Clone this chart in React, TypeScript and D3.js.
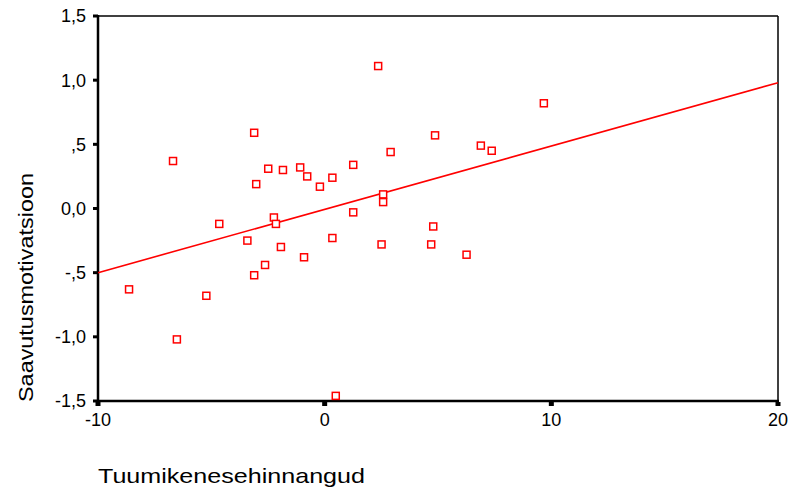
import React from "react"
import { scaleLinear, line } from "d3"

// values
const xValues = [
  -8.63, -6.69, -6.52, -5.22, -4.65, -3.41, -3.11, -3.02, -3.11, -2.63, -2.49, -2.24,
  -2.15, -1.84, -1.93, -1.08, -0.91, -0.77, -0.21, 0.34, 0.34, 0.49, 1.26, 1.26, 2.36,
  2.51, 2.58, 2.58, 2.91, 4.87, 4.7, 4.79, 6.26, 6.89, 7.37, 9.67,
]
const yValues = [
  -0.63, 0.37, -1.02, -0.68, -0.12, -0.25, 0.59, 0.19, -0.52, -0.44, 0.31, -0.07,
  -0.12, 0.3, -0.3, 0.32, -0.38, 0.25, 0.17, 0.24, -0.23, -1.46, 0.34, -0.03, 1.11,
  -0.28, 0.11, 0.05, 0.44, 0.57, -0.28, -0.14, -0.36, 0.49, 0.45, 0.82,
]
const fitX = [-10, 20]
const fitY = [-0.5, 0.98]
const xTicks = [-10, 0, 10, 20]
const xTickLabels = ["-10", "0", "10", "20"]
const yTicks = [1.5, 1.0, 0.5, 0.0, -0.5, -1.0, -1.5]
const yTickLabels = ["1,5", "1,0", ",5", "0,0", "-,5", "-1,0", "-1,5"]

const xTitle = "Tuumikenesehinnangud"
const yTitle = "Saavutusmotivatsioon"

const App = () => {
  const width = 789
  const height = 490
  const left = 98
  const right = 778
  const top = 16
  const bottom = 401
  const font = "'Liberation Sans', Arial, Helvetica, sans-serif"

  const x = scaleLinear().domain([-10, 20]).range([left, right])
  const y = scaleLinear().domain([-1.5, 1.5]).range([bottom, top])

  const fitPath = line<number>()
    .x((d) => x(d))
    .y((_, i) => y(fitY[i]))(fitX)

  const box = 7

  return (
    <svg
      width={width}
      height={height}
      style={{ position: "absolute", left: 0, top: 0, background: "#fff" }}
    >
      {/* frame */}
      <line x1={left} x2={right} y1={top} y2={top} stroke="#000" strokeWidth={1.5} />
      <line x1={right} x2={right} y1={top} y2={bottom} stroke="#000" strokeWidth={1.5} />
      <line x1={left} x2={left} y1={top - 1} y2={bottom + 1} stroke="#000" strokeWidth={2.5} />
      <line x1={left - 1} x2={right + 1} y1={bottom} y2={bottom} stroke="#000" strokeWidth={2.5} />

      {/* y ticks */}
      {yTicks.map((t, i) => (
        <g key={"y" + i} transform={`translate(0, ${y(t)})`}>
          <rect x={left - 5} y={-1.5} width={5} height={3} fill="#000" />
          <text
            x={left - 12}
            y={0}
            dy="0.36em"
            textAnchor="end"
            fontFamily={font}
            fontSize={18}
            fill="#000"
          >
            {yTickLabels[i]}
          </text>
        </g>
      ))}

      {/* x ticks */}
      {xTicks.map((t, i) => (
        <g key={"x" + i} transform={`translate(${x(t)}, 0)`}>
          <rect x={-2.5} y={bottom + 1} width={5} height={4} fill="#000" />
          <text
            x={0}
            y={bottom + 25}
            textAnchor="middle"
            fontFamily={font}
            fontSize={18}
            fill="#000"
          >
            {xTickLabels[i]}
          </text>
        </g>
      ))}

      {/* fit line */}
      <path d={fitPath || ""} fill="none" stroke="#ff0000" strokeWidth={1.6} />

      {/* points */}
      {xValues.map((v, i) => (
        <rect
          key={i}
          x={x(v) - box / 2}
          y={y(yValues[i]) - box / 2}
          width={box}
          height={box}
          fill="#fff"
          stroke="#ff0000"
          strokeWidth={1.5}
        />
      ))}

      {/* titles */}
      <text
        x={98}
        y={483}
        fontFamily={font}
        fontSize={21}
        textLength={267}
        lengthAdjust="spacingAndGlyphs"
        fill="#000"
      >
        {xTitle}
      </text>
      <text
        transform={`translate(33, ${402}) rotate(-90)`}
        fontFamily={font}
        fontSize={21}
        textLength={229}
        lengthAdjust="spacingAndGlyphs"
        fill="#000"
      >
        {yTitle}
      </text>
    </svg>
  )
}

export default App
